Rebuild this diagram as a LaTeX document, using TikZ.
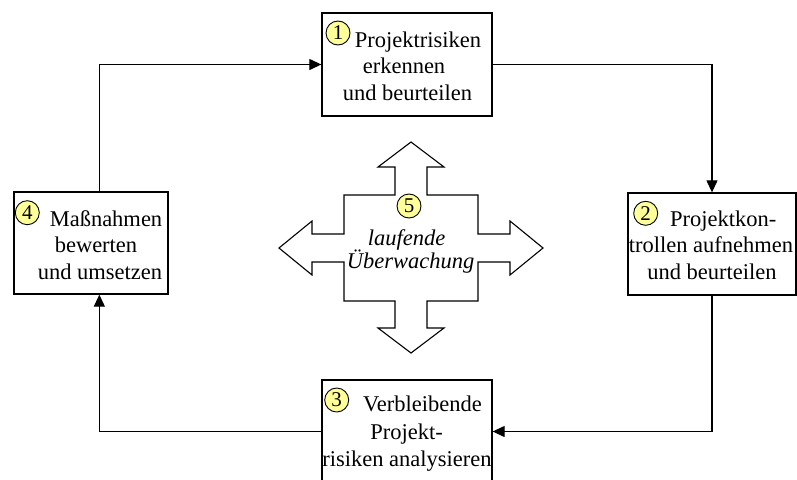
\documentclass[tikz,border=0pt]{standalone}
\usepackage{fontspec}
\setmainfont{Liberation Serif}
\newfontfamily\tnr{Liberation Serif}
\usetikzlibrary{arrows.meta,calc}
\definecolor{numfill}{HTML}{FFFF99}
\tikzset{
  box/.style={draw=black, line width=1.3pt, fill=white, rectangle, inner sep=0pt},
  conn/.style={draw=black, line width=1.2pt, -{Triangle[length=12pt,width=11pt]}},
  txt/.style={anchor=base, inner sep=0pt, font=\tnr\fontsize{22.5}{26}\selectfont},
  itxt/.style={anchor=base, inner sep=0pt, font=\tnr\itshape\fontsize{22.5}{26}\selectfont},
  num/.style={circle, draw=black, line width=0.9pt, fill=numfill, minimum size=24pt, inner sep=0pt, font=\tnr\fontsize{21}{24}\selectfont},
  crossarrow/.style={draw=black, line width=1.1pt, fill=white, line join=miter}
}
\begin{document}
\begin{tikzpicture}[x=1pt,y=-1pt]
\clip (0,0) rectangle (797,479);
\fill[white] (0,0) rectangle (797,479);

% boxes
\node[box, minimum width=170pt, minimum height=103pt] (b1) at (407,64.5) {};
\node[box, minimum width=168pt, minimum height=102pt] (b2) at (712,244) {};
\node[box, minimum width=170pt, minimum height=103pt] (b3) at (407,431.5) {};
\node[box, minimum width=154pt, minimum height=102pt] (b4) at (91,243) {};

% connectors
\coordinate (b4top) at ($(b4.north west)+(86,0)$);
\coordinate (b4bot) at ($(b4.south west)+(86,0)$);
\draw[conn] (b4top) |- (b1.west);
\draw[conn] (b1.east) -| (b2.north);
\draw[conn] (b2.south) |- (b3.east);
\draw[conn] (b3.west) -| (b4bot);

% box 1
\node[num] (n1) at (338,33) {1};
\node[txt] (t1a) at (418,47) {Projektrisiken};
\node[txt] (t1b) at (404,73.3) {erkennen};
\node[txt] (t1c) at (407.5,100) {und beurteilen};

% box 2
\node[num] (n2) at (645.7,213.3) {2};
\node[txt] (t2a) at (723.3,226) {Projektkon-};
\node[txt] (t2b) at (711,252.7) {trollen aufnehmen};
\node[txt] (t2c) at (712,279.3) {und beurteilen};

% box 3
\node[num] (n3) at (336.7,400) {3};
\node[txt] (t3a) at (422.5,411.7) {Verbleibende};
\node[txt] (t3b) at (406.5,439) {Projekt-};
\node[txt] (t3c) at (407,466.7) {risiken analysieren};

% box 4
\node[num] (n4) at (27.3,212.7) {4};
\node[txt] (t4a) at (106,226) {Maßnahmen};
\node[txt] (t4b) at (96,252) {bewerten};
\node[txt] (t4c) at (100,279) {und umsetzen};

% four-way arrow
\draw[crossarrow] (411,142) -- (444,167) -- (427,167) -- (427,195) -- (478,195) -- (478,234)
  -- (510,234) -- (510,221) -- (543,248) -- (510,275) -- (510,262) -- (478,262) -- (478,301)
  -- (427,301) -- (427,328) -- (444,328) -- (411,353) -- (378,328) -- (395,328) -- (395,301)
  -- (344,301) -- (344,262) -- (312,262) -- (312,275) -- (279,248) -- (312,221) -- (312,234)
  -- (344,234) -- (344,195) -- (395,195) -- (395,167) -- (378,167) -- cycle;
\node[num] (n5) at (409,206) {5};
\node[itxt] (t5a) at (406.7,245) {laufende};
\node[itxt] (t5b) at (410.7,268.3) {Überwachung};
\end{tikzpicture}
\end{document}
